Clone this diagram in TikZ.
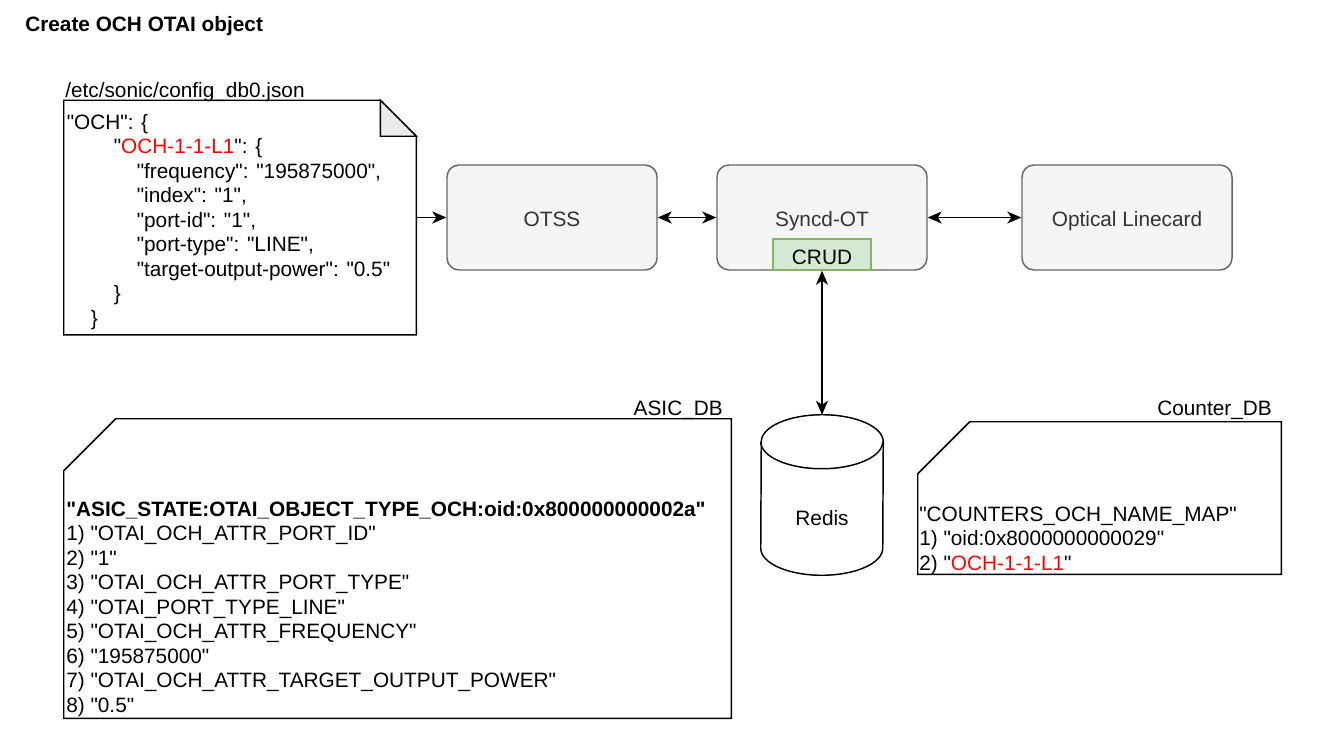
\documentclass[tikz,border=0pt]{standalone}
\usepackage{fontspec}
\setmainfont{Liberation Sans}[Ligatures=TeXOff]
\usepackage{tikz}
\usetikzlibrary{shapes}
\usetikzlibrary{arrows.meta}
\usetikzlibrary{calc}

\begin{document}
\begin{tikzpicture}[x=0.75pt, y=-0.75pt,
				every node/.style={font=\fontsize{15.6pt}{18.4pt}\selectfont},
				every text node part/.style={align=left},
				block/.style={rectangle, rounded corners=9pt, line width=1.1pt, draw=boxdraw, fill=boxfill, text=txtgray, text height=13.4pt, text depth=0pt, minimum width=157.5pt, minimum height=78.75pt},
				str/.style={rectangle, inner sep=0pt},
				doc/.style={rectangle, inner sep=0pt},
				outline/.style={line width=1.1pt, line join=miter},
				arrow/.style={-{Stealth[length=10.5pt, width=9pt, inset=3pt]}, line width=1.1pt},
				biarrow/.style={{Stealth[length=10.5pt, width=9pt, inset=3pt]}-{Stealth[length=10.5pt, width=9pt, inset=3pt]}, line width=1.1pt}]

					\useasboundingbox (0,0) rectangle (1323,728);

				    \definecolor{boxfill}{HTML}{F5F5F5}
				    \definecolor{boxdraw}{HTML}{666666}
				    \definecolor{txtgray}{HTML}{333333}
				    \definecolor{crudfill}{HTML}{D5E8D4}
				    \definecolor{cruddraw}{HTML}{82B366}
				    \definecolor{ochred}{HTML}{FF0000}
				    \definecolor{foldgray}{HTML}{EBEBEB}

					\node[str, anchor=base west] (title) at (25, 31.5) {\bfseries Create OCH OTAI object};

					\node[doc, minimum width=264pt, minimum height=175.5pt] (confignote) at (240, 217.5) {};
					\node[doc, minimum width=500.25pt, minimum height=224.25pt] (asicdb) at (397.5, 568.5) {};
					\node[doc, minimum width=272.25pt, minimum height=114pt] (counterdb) at (1099.5, 498) {};
					\node[doc, minimum width=91.5pt, minimum height=120pt, label={[yshift=-17pt]center:Redis}] (redis) at (822, 495) {};

					\draw[outline, fill=white] (confignote.north west) -- ($(confignote.north east)+(-36,0)$) -- ($(confignote.north east)+(0,36)$) -- (confignote.south east) -- (confignote.south west) -- cycle;
					\draw[outline, fill=foldgray] ($(confignote.north east)+(-36,0)$) -- ($(confignote.north east)+(-36,36)$) -- ($(confignote.north east)+(0,36)$) -- cycle;
					\draw[outline] ($(asicdb.north west)+(52,0)$) -- (asicdb.north east) -- (asicdb.south east) -- (asicdb.south west) -- ($(asicdb.north west)+(0,52)$) -- cycle;
					\draw[outline] ($(counterdb.north west)+(52,0)$) -- (counterdb.north east) -- (counterdb.south east) -- (counterdb.south west) -- ($(counterdb.north west)+(0,52)$) -- cycle;
					\draw[outline] ($(redis.south west)+(0,-27)$) arc[start angle=180, end angle=360, x radius=45.75pt, y radius=20.25pt] -- ($(redis.north east)+(0,27)$) arc[start angle=0, end angle=180, x radius=45.75pt, y radius=20.25pt] -- cycle;
					\draw[outline] ($(redis.north west)+(0,27)$) arc[start angle=180, end angle=360, x radius=45.75pt, y radius=20.25pt];

					\node[str, anchor=base west] (configname) at (65, 97) {/etc/sonic/config\_db0.json};
					\node[str, anchor=base east] (asicname) at (723, 415.5) {ASIC\_DB};
					\node[str, anchor=base east] (countername) at (1272, 415.5) {Counter\_DB};

					\node[str, anchor=north west] (configtext) at (66.5, 113.8) {"OCH": \{\\
						\hspace*{35.25pt}"\textcolor{ochred}{OCH-1-1-L1}": \{\\
						\hspace*{52.5pt}"frequency": "195875000",\\
						\hspace*{52.5pt}"index": "1",\\
						\hspace*{52.5pt}"port-id": "1",\\
						\hspace*{52.5pt}"port-type": "LINE",\\
						\hspace*{52.5pt}"target-output-power": "0.5"\\
						\hspace*{35.25pt}\}\\
						\hspace*{18pt}\}};

					\node[str, anchor=north west] (asictext) at (66, 500.8) {\textbf{"ASIC\_STATE:OTAI\_OBJECT\_TYPE\_OCH:oid:0x800000000002a"}\\
						1) "OTAI\_OCH\_ATTR\_PORT\_ID"\\
						2) "1"\\
						3) "OTAI\_OCH\_ATTR\_PORT\_TYPE"\\
						4) "OTAI\_PORT\_TYPE\_LINE"\\
						5) "OTAI\_OCH\_ATTR\_FREQUENCY"\\
						6) "195875000"\\
						7) "OTAI\_OCH\_ATTR\_TARGET\_OUTPUT\_POWER"\\
						8) "0.5"};

					\node[str, anchor=north west] (countertext) at (919, 506.3) {"COUNTERS\_OCH\_NAME\_MAP"\\
						1) "oid:0x8000000000029"\\
						2) "\textcolor{ochred}{OCH-1-1-L1}"};

					\node[block] (otss) at (552, 217.5) {OTSS};
					\node[block] (syncd) at (822, 217.5) {Syncd-OT};
					\node[block] (optical) at (1127, 217.5) {Optical Linecard};
					\node[rectangle, draw=cruddraw, fill=crudfill, line width=1.1pt, inner sep=0pt, text height=15.7pt, text depth=0pt, minimum width=73.5pt, minimum height=23.25pt] (crud) at (822, 254.5) {CRUD};

					\draw (confignote) edge [arrow] (otss);
					\draw (otss) edge [biarrow] (syncd);
					\draw (syncd) edge [biarrow] (optical);
					\draw (crud) edge [biarrow] (redis);
				\end{tikzpicture}
\end{document}
